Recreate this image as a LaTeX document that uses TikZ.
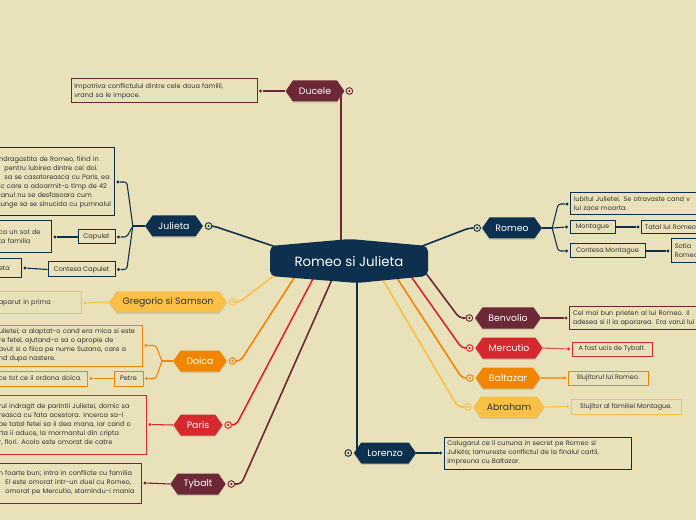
\documentclass[tikz,border=0pt]{standalone}
\usepackage{fontspec}
\setmainfont{Poppins}
\usetikzlibrary{shapes.symbols,shadows,backgrounds,calc}

\definecolor{bgc}{HTML}{E8E1B9}
\definecolor{navy}{HTML}{0C304D}
\definecolor{wine}{HTML}{6D2838}
\definecolor{scarlet}{HTML}{D6282F}
\definecolor{amber}{HTML}{F28500}
\definecolor{honey}{HTML}{F9BF47}
\definecolor{ink}{HTML}{333333}

\newcommand\notefont{\fontsize{4.9}{6.75}\selectfont}
\newcommand\topicfont{\fontsize{7}{8.5}\selectfont}

\tikzset{
  topic/.style={signal, signal to=east and west, signal pointer angle=110, fill=#1, text=white,
    font=\topicfont, minimum height=15.75pt, inner xsep=4.5pt, inner ysep=0pt,
    drop shadow={shadow xshift=0pt, shadow yshift=-1pt, opacity=0.25}},
  note/.style={draw=#1, fill=bgc, line width=0.75pt, text=ink, font=\notefont, align=left,
    inner xsep=2.5pt, inner ysep=2pt},
  tag/.style={draw=#1, fill=bgc, line width=0.75pt, text=ink, font=\notefont, inner sep=1pt},
  ring/.style={circle, draw=#1, fill=bgc, line width=0.7pt, minimum size=5pt, inner sep=0pt,
    path picture={\fill[#1] (path picture bounding box.center) circle (0.9pt);}},
  dot/.style={circle, fill=#1, inner sep=0pt, minimum size=2.6pt},
  stem/.style={draw=#1, line width=1.2pt, rounded corners=3pt},
  twig/.style={draw=#1, line width=0.8pt, rounded corners=2pt},
}

\begin{document}
\begin{tikzpicture}[x=0.75pt, y=-0.75pt]
  \useasboundingbox (0,0) rectangle (696,520);

  % centre
  \fill[navy, rounded corners=4pt] (270,246) -- (350,239) -- (428,246) -- (428,276) -- (357,283) -- (270,276) -- cycle;
  \node[text=white, font=\fontsize{10}{12}\selectfont] (main) at (349,261) {Romeo si Julieta};
  \coordinate (mDuc) at (341,250);
  \coordinate (mLor) at (357,270);
  \coordinate (mJul) at (285,250);
  \coordinate (mRom) at (412,250);
  \coordinate (mGre) at (275,275);
  \coordinate (mDoi) at (296,275);
  \coordinate (mPar) at (315,275);
  \coordinate (mTyb) at (334,275);
  \coordinate (mBen) at (425,272);
  \coordinate (mMer) at (410,275);
  \coordinate (mBal) at (395,275);
  \coordinate (mAbr) at (380,275);

  % topics
  \node[topic=wine] (duc) at (315,91) {Ducele};
  \node[topic=navy] (jul) at (174,226) {Julieta};
  \node[topic=navy] (rom) at (512,228) {Romeo};
  \node[topic=honey, text=ink] (gre) at (168,302) {Gregorio si Samson};
  \node[topic=amber] (doi) at (200,361) {Doica};
  \node[topic=scarlet] (par) at (198,425) {Paris};
  \node[topic=wine] (tyb) at (198,484) {Tybalt};
  \node[topic=wine] (ben) at (508,318) {Benvolio};
  \node[topic=scarlet] (mer) at (509,348) {Mercutio};
  \node[topic=amber] (bal) at (508,378) {Baltazar};
  \node[topic=honey, text=ink] (abr) at (509,407) {Abraham};
  \node[topic=navy] (lor) at (385,453) {Lorenzo};

  % rings
  \node[ring=wine] (ducR) at ([xshift=3.5pt]duc.east) {};
  \node[ring=navy] (julR) at ([xshift=4pt]jul.east) {};
  \node[ring=navy] (romR) at ([xshift=-3.5pt]rom.west) {};
  \node[ring=honey] (greR) at ([xshift=4pt]gre.east) {};
  \node[ring=amber] (doiR) at ([xshift=4pt]doi.east) {};
  \node[ring=scarlet] (parR) at ([xshift=4pt]par.east) {};
  \node[ring=wine] (tybR) at ([xshift=4pt]tyb.east) {};
  \node[ring=wine] (benR) at ([xshift=-4pt]ben.west) {};
  \node[ring=scarlet] (merR) at ([xshift=-4pt]mer.west) {};
  \node[ring=amber] (balR) at ([xshift=-4pt]bal.west) {};
  \node[ring=honey] (abrR) at ([xshift=-4pt]abr.west) {};
  \node[ring=navy] (lorR) at ([xshift=-4pt]lor.west) {};

  % notes, left
  \node[note=wine, text width=134.5pt, minimum height=18pt] (ducN) at (164,91)
    {Impotriva conflictului dintre cele doua familii,\\vrand sa le impace.};
  \node[note=navy, text width=84pt, minimum height=51pt, anchor=east] (julN) at (115,182)
    {ndragostita de Romeo, fiind in\\\hspace*{4pt}pentru iubirea dintre cei doi.\\\hspace*{4pt}sa se casatoreasca cu Paris, ea\\ic care a adoarmit-o timp de 42\\lanul nu se desfasoara cum\\junge sa se sinucida cu pumnalul};
  \node[tag=navy, minimum width=27.75pt, minimum height=10.5pt] (capB) at (96.5,237) {Capulet};
  \node[note=navy, text width=37pt, minimum height=24pt, anchor=east] (capN) at (52,237)
    {ca un sot de\\ta familia};
  \node[tag=navy, minimum width=50.25pt, minimum height=11.25pt] (ccapB) at (81.5,269.5) {Contesa Capulet};
  \node[note=navy, text width=14.5pt, minimum height=14.25pt, anchor=east] (ccapN) at (22,268) {eta};
  \node[note=honey, text width=59.5pt, minimum height=16.5pt, anchor=east] (greN) at (82,303)
    {aparut in prima\\};
  \node[note=amber, text width=105.25pt, minimum height=30.75pt, anchor=east] (doiN) at (143,345.5)
    {ulietei; a alaptat-o cand era mica si este\\re fetei, ajutand-o sa o apropie de\\avut si o fiica pe nume Suzana, care a\\nd dupa nastere.};
  \node[tag=amber, minimum width=21.75pt, minimum height=11.25pt] (petB) at (128.5,378.5) {Petre};
  \node[note=amber, text width=64pt, minimum height=11.25pt, anchor=east] (petN) at (88,378.5)
    {ce tot ce ii ordona doica.};
  \node[note=scarlet, text width=108.25pt, minimum height=44.25pt, anchor=east] (parN) at (147,424.5)
    {rul indragit de parintii Julietei, dornic sa\\reasca cu fata acestora. Incerca sa-l\\pe tatal fetei sa ii dea mana, iar cand o\\rta ii aduce, la mormantul din cripta\\r, flori. Acolo este omorat de catre};
  \node[note=wine, text width=104.5pt, minimum height=30pt, anchor=east] (tybN) at (142,483)
    {n foarte bun; intra in conflicte cu familia\\\hspace*{5pt}El este omorat intr-un duel cu Romeo,\\\hspace*{5pt}omorat pe Mercutio, starnindu-i mania};

  % notes, right
  \node[note=navy, text width=107.5pt, minimum height=16.5pt, anchor=west] (romN) at (570,204)
    {Iubitul Julietei. Se otravaste cand v\\lui zace moarta.};
  \node[tag=navy, minimum width=33.75pt, minimum height=9.75pt] (monB) at (592.5,227) {Montague};
  \node[note=navy, text width=55pt, minimum height=9.75pt, inner ysep=1pt, anchor=west] (monN) at (641,227)
    {Tatal lui Romeo};
  \node[tag=navy, minimum width=56.25pt, minimum height=10.5pt] (cmonB) at (607.5,251) {Contesa Montague};
  \node[note=navy, text width=32.5pt, minimum height=18pt, anchor=west] (cmonN) at (671,251)
    {Sotia\\Romeo};
  \node[note=wine, text width=107.5pt, minimum height=16.5pt, anchor=west] (benN) at (569,318)
    {Cel mai bun prieten al lui Romeo. Il\\adesea si il ia apararea. Era varul lui};
  \node[tag=scarlet, minimum width=60pt, minimum height=10.5pt] (merN) at (612,349) {A fost ucis de Tybalt.};
  \node[tag=amber, minimum width=60pt, minimum height=10.5pt] (balN) at (608,378) {Slujitorul lui Romeo.};
  \node[tag=honey, minimum width=82.5pt, minimum height=11.25pt] (abrN) at (626,406.5) {Slujitor al familiei Montague.};
  \node[note=navy, text width=135.25pt, minimum height=24pt] (lorN) at (537.5,453)
    {Calugarul ce ii cununa in secret pe Romeo si\\Julieta; lamureste conflictul de la finalul cartii,\\impreuna cu Baltazar.};

  % dots
  \node[dot=wine] (ducD) at ([xshift=2.25pt]ducN.east) {};
  \node[dot=navy] (julD) at ([xshift=2.25pt]julN.east) {};
  \node[dot=navy] (capD) at ([xshift=2.25pt]capB.east) {};
  \node[dot=navy] (capND) at ([xshift=2.25pt]capN.east) {};
  \node[dot=navy] (ccapD) at ([xshift=2.25pt]ccapB.east) {};
  \node[dot=navy] (ccapND) at ([xshift=2.25pt]ccapN.east) {};
  \node[dot=honey] (greD) at ([xshift=2.25pt]greN.east) {};
  \node[dot=amber] (doiD) at ([xshift=2.25pt]doiN.east) {};
  \node[dot=amber] (petD) at ([xshift=2.25pt]petB.east) {};
  \node[dot=amber] (petND) at ([xshift=2.25pt]petN.east) {};
  \node[dot=scarlet] (parD) at ([xshift=2.25pt]parN.east) {};
  \node[dot=wine] (tybD) at ([xshift=2.25pt]tybN.east) {};
  \node[dot=navy] (romD) at ([xshift=-2.25pt]romN.west) {};
  \node[dot=navy] (monD) at ([xshift=-2.25pt]monB.west) {};
  \node[dot=navy] (monND) at ([xshift=-2.25pt]monN.west) {};
  \node[dot=navy] (cmonD) at ([xshift=-2.25pt]cmonB.west) {};
  \node[dot=navy] (cmonND) at ([xshift=-2.25pt]cmonN.west) {};
  \node[dot=wine] (benD) at ([xshift=-2.25pt]benN.west) {};
  \node[dot=scarlet] (merD) at ([xshift=-2.25pt]merN.west) {};
  \node[dot=amber] (balD) at ([xshift=-2.25pt]balN.west) {};
  \node[dot=honey] (abrD) at ([xshift=-2.25pt]abrN.west) {};
  \node[dot=navy] (lorD) at ([xshift=-2.25pt]lorN.west) {};

  \coordinate (julB) at ([xshift=-9pt]jul.west);
  \coordinate (romB) at ([xshift=7.5pt]rom.east);
  \coordinate (doiB) at ([xshift=-8.25pt]doi.west);

  \begin{scope}[on background layer]
    \fill[bgc] (0,0) rectangle (696,520);
    % from the centre
    \draw[stem=wine] (duc.center -| mDuc) -- (mDuc);
    \draw[stem=navy] (mLor) -- (mLor |- lor.center);
    \draw[stem=navy] (julR) -- ++(5,0) -- (mJul);
    \draw[stem=navy] (romR) -- ++(-8,0) -- (mRom);
    \draw[stem=honey] (greR) -- ++(7,0) -- (mGre);
    \draw[stem=amber] (doiR) -- ++(8,0) -- (mDoi);
    \draw[stem=scarlet] (parR) -- ++(8,0) -- (mPar);
    \draw[stem=wine] (tybR) -- ++(10,0) -- (mTyb);
    \draw[stem=wine] (benR) -- ++(-10,0) -- (mBen);
    \draw[stem=scarlet] (merR) -- ++(-8,0) -- (mMer);
    \draw[stem=amber] (balR) -- ++(-8,0) -- (mBal);
    \draw[stem=honey] (abrR) -- ++(-10,0) -- (mAbr);
    % to the notes
    \draw[twig=wine] (duc.west) -- (ducD);
    \draw[twig=navy] (jul.west) -- (julB);
    \draw[twig=navy] (julB) -- ($(julB |- julD)+(-6,0)$) -- (julD);
    \draw[twig=navy] (julB) -- ($(julB |- capD)+(-6,0)$) -- (capD);
    \draw[twig=navy] (julB) -- ($(julB |- ccapD)+(-6,0)$) -- (ccapD);
    \draw[twig=navy] (capB.west) -- (capND);
    \draw[twig=navy] (ccapB.west) -- (ccapND);
    \draw[twig=honey] (gre.west) -- (greD);
    \draw[twig=amber] (doi.west) -- (doiB);
    \draw[twig=amber] (doiB) -- ($(doiB |- doiD)+(-6,0)$) -- (doiD);
    \draw[twig=amber] (doiB) -- ($(doiB |- petD)+(-6,0)$) -- (petD);
    \draw[twig=amber] (petB.west) -- (petND);
    \draw[twig=scarlet] (par.west) -- (parD);
    \draw[twig=wine] (tyb.west) -- (tybD);
    \draw[twig=navy] (rom.east) -- (romB);
    \draw[twig=navy] (romB) -- ($(romB |- romD)+(6,0)$) -- (romD);
    \draw[twig=navy] (romB) -- (monD);
    \draw[twig=navy] (romB) -- ($(romB |- cmonD)+(6,0)$) -- (cmonD);
    \draw[twig=navy] (monB.east) -- (monND);
    \draw[twig=navy] (cmonB.east) -- (cmonND);
    \draw[twig=wine] (ben.east) -- (benD);
    \draw[twig=scarlet!80] (mer.east) -- (merD);
    \draw[twig=amber!80] (bal.east) -- (balD);
    \draw[twig=honey] (abr.east) -- (abrD);
    \draw[twig=navy] (lor.east) -- (lorD);
  \end{scope}
\end{tikzpicture}
\end{document}
